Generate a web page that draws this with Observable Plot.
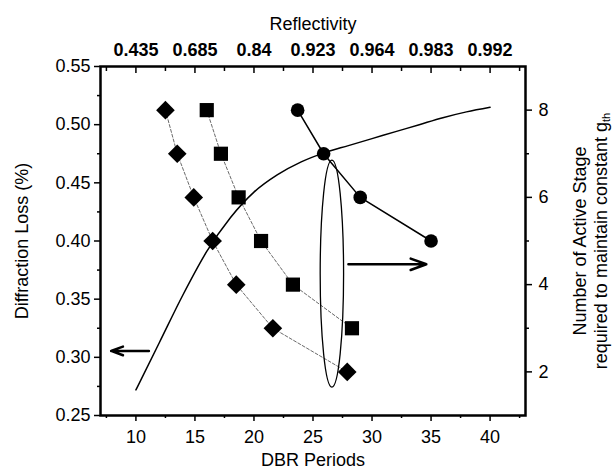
<!DOCTYPE html>
<html>
<head>
<meta charset="utf-8">
<script src="https://cdn.jsdelivr.net/npm/d3@7"></script>
<script src="https://cdn.jsdelivr.net/npm/@observablehq/plot@0.6"></script>
<style>
  html, body { margin: 0; padding: 0; background: #fff; }
</style>
</head>
<body>
<div id="chart"></div>
<script>
// ---- data ----
const curvePeriods = [10, 12, 14, 16, 18, 20, 22, 24, 26, 28, 30, 32, 34, 36, 38, 40];
const curveLoss    = [0.272, 0.313, 0.354, 0.391, 0.420, 0.442, 0.457, 0.468, 0.476, 0.482, 0.488, 0.494, 0.500, 0.506, 0.511, 0.515];

const diamondPeriods = [12.5, 13.5, 14.9, 16.5, 18.5, 21.6, 27.9];
const diamondStages  = [8, 7, 6, 5, 4, 3, 2];
const squarePeriods  = [16.0, 17.2, 18.7, 20.6, 23.3, 28.3];
const squareStages   = [8, 7, 6, 5, 4, 3];
const circlePeriods  = [23.7, 25.9, 29.0, 35.0];
const circleStages   = [8, 7, 6, 5];

const periodTicks = [10, 15, 20, 25, 30, 35, 40];
const periodMinorTicks = [7.5, 12.5, 17.5, 22.5, 27.5, 32.5, 37.5, 42.5];
const reflectivityLabels = ["0.435", "0.685", "0.84", "0.923", "0.964", "0.983", "0.992"];
const lossTicks = [0.25, 0.30, 0.35, 0.40, 0.45, 0.50, 0.55];
const lossMinorTicks = [0.275, 0.325, 0.375, 0.425, 0.475, 0.525];
const stageTicks = [2, 4, 6, 8];
const stageMinorTicks = [3, 5, 7];

// annotations (data coordinates)
const ellipseAt = [{x: 26.6, y: 0.372}];
const arrowsAt = [
  {x1: 11.1, y1: 0.3055, x2: 7.9, y2: 0.3055},
  {x1: 28.0, y1: 0.380, x2: 34.6, y2: 0.380}
];

// ---- scales ----
const lossDomain = [0.25, 0.55];
const stageDomain = [1, 9];
const toLeft = v => lossDomain[0] + (v - stageDomain[0]) / (stageDomain[1] - stageDomain[0]) * (lossDomain[1] - lossDomain[0]);

const curve = curvePeriods.map((x, i) => ({x, y: curveLoss[i]}));
const diamonds = diamondPeriods.map((x, i) => ({x, y: toLeft(diamondStages[i])}));
const squares = squarePeriods.map((x, i) => ({x, y: toLeft(squareStages[i])}));
const circles = circlePeriods.map((x, i) => ({x, y: toLeft(circleStages[i])}));

// tall ellipse symbol
const ellipseSymbol = {
  draw(context, size) {
    const rx = Math.sqrt(size / Math.PI);
    const ry = rx * 9.7;
    const k = 0.5522847;
    context.moveTo(rx, 0);
    context.bezierCurveTo(rx, ry * k, rx * k, ry, 0, ry);
    context.bezierCurveTo(-rx * k, ry, -rx, ry * k, -rx, 0);
    context.bezierCurveTo(-rx, -ry * k, -rx * k, -ry, 0, -ry);
    context.bezierCurveTo(rx * k, -ry, rx, -ry * k, rx, 0);
    context.closePath();
  }
};

const font = "'Liberation Sans', Arial, Helvetica, sans-serif";

const chart = Plot.plot({
  width: 615,
  height: 476,
  marginLeft: 100,
  marginRight: 90,
  marginTop: 66,
  marginBottom: 61,
  style: {fontFamily: font, fontSize: "18px", color: "black", background: "white"},
  x: {domain: [7, 43]},
  y: {domain: lossDomain},
  marks: [
    // axes
    Plot.axisX({anchor: "bottom", ticks: periodTicks, tickSize: 6, tickPadding: 9, strokeWidth: 1.5, label: null, fontSize: 18}),
    Plot.axisX({anchor: "bottom", ticks: periodMinorTicks, tickSize: 3, strokeWidth: 1.5, text: null, label: null}),
    Plot.axisX({anchor: "top", ticks: periodTicks, tickSize: -6, strokeWidth: 1.5, text: null, label: null}),
    Plot.axisX({anchor: "top", ticks: periodMinorTicks, tickSize: -4, strokeWidth: 1.5, text: null, label: null}),
    Plot.axisX({anchor: "top", ticks: periodTicks, tickSize: 0, tickPadding: 11, tickFormat: (d, i) => reflectivityLabels[i], fontWeight: "bold", label: null, fontSize: 18}),
    Plot.axisY({anchor: "left", ticks: lossTicks, tickSize: 6, tickPadding: 4, strokeWidth: 1.5, tickFormat: d3.format(".2f"), label: null, fontSize: 18}),
    Plot.axisY({anchor: "left", ticks: lossMinorTicks, tickSize: 3, strokeWidth: 1.5, text: null, label: null}),
    Plot.axisY({anchor: "right", ticks: stageTicks.map(toLeft), tickSize: 6, tickPadding: 7, strokeWidth: 1.5, tickFormat: (d, i) => stageTicks[i], label: null, fontSize: 18}),
    Plot.axisY({anchor: "right", ticks: stageMinorTicks.map(toLeft), tickSize: 3, strokeWidth: 1.5, text: null, label: null}),
    // titles
    Plot.text(["Reflectivity"], {frameAnchor: "top", dy: -49, fontSize: 18}),
    Plot.text(["DBR Periods"], {frameAnchor: "bottom", dy: 50, fontSize: 18}),
    Plot.text(["Diffraction Loss (%)"], {frameAnchor: "left", dx: -78, rotate: -90, textAnchor: "middle", fontSize: 18}),
    Plot.text(["Number of Active Stage"], {frameAnchor: "right", dx: 55, rotate: -90, textAnchor: "middle", fontSize: 18}),
    Plot.text(["required to maintain constant g"], {frameAnchor: "right", dx: 76, rotate: -90, textAnchor: "middle", fontSize: 18, className: "gth"}),
    // connecting lines
    Plot.line(diamonds, {x: "x", y: "y", stroke: "#444", strokeWidth: 0.8, strokeDasharray: "3,2"}),
    Plot.line(squares, {x: "x", y: "y", stroke: "#444", strokeWidth: 0.8, strokeDasharray: "3,2"}),
    Plot.line(circles, {x: "x", y: "y", stroke: "black", strokeWidth: 1.5}),
    // diffraction loss curve
    Plot.line(curve, {x: "x", y: "y", stroke: "black", strokeWidth: 1.5, curve: "monotone-x"}),
    // markers
    Plot.dot(diamonds, {x: "x", y: "y", symbol: "diamond2", r: 8.4, fill: "black", stroke: "none"}),
    Plot.dot(squares, {x: "x", y: "y", symbol: "square", r: 8.0, fill: "black", stroke: "none"}),
    Plot.dot(circles, {x: "x", y: "y", symbol: "circle", r: 6.8, fill: "black", stroke: "none"}),
    // annotations
    Plot.dot(ellipseAt, {x: "x", y: "y", symbol: ellipseSymbol, r: 11.7, fill: "none", stroke: "black", strokeWidth: 1.3}),
    Plot.arrow(arrowsAt, {x1: "x1", y1: "y1", x2: "x2", y2: "y2", stroke: "black", strokeWidth: 2.5, headLength: 10, headAngle: 40}),
    Plot.frame({stroke: "black", strokeWidth: 2.5})
  ]
});

document.getElementById("chart").appendChild(chart);

// subscript "th" on the right title
d3.select(chart).selectAll("g.gth text").each(function() {
  const t = d3.select(this);
  t.append("tspan").attr("font-size", "11px").attr("dy", "0.25em").text("th");
});
</script>
</body>
</html>
